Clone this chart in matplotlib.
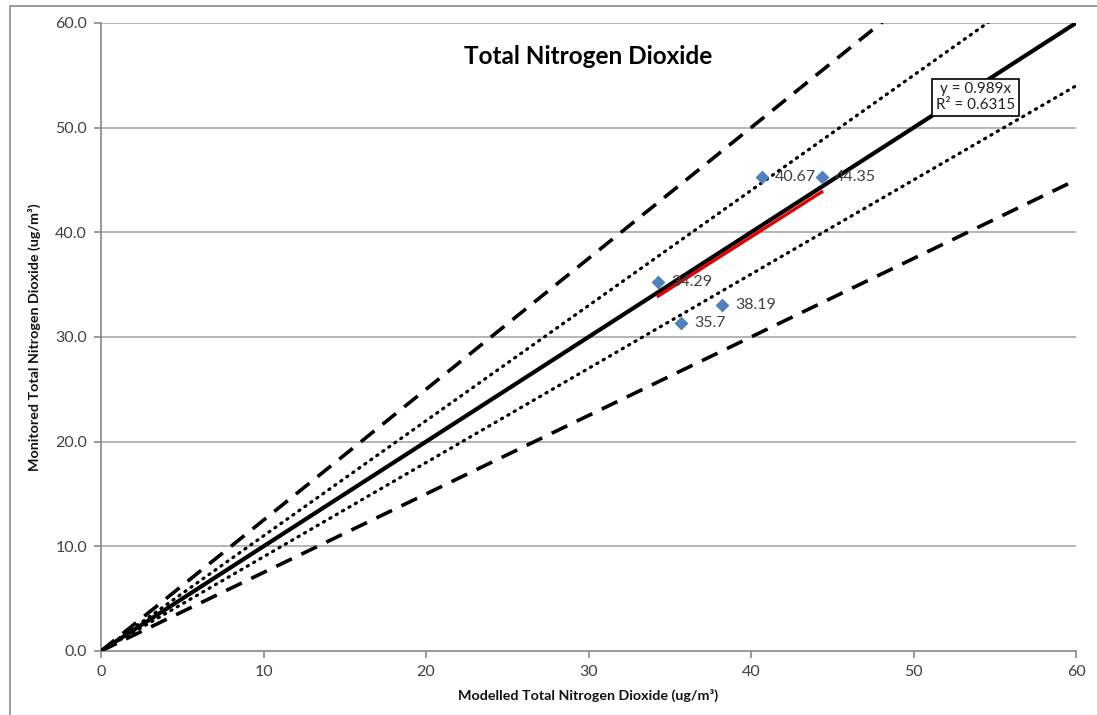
import matplotlib
matplotlib.use("Agg")
import matplotlib.pyplot as plt
from matplotlib.patches import Rectangle

plt.rcParams['font.family'] = ['Lato', 'DejaVu Sans']

# Data
modelled = [34.29, 35.7, 38.19, 40.67, 44.35]
monitored = [35.22, 31.37, 33.06, 45.31, 45.31]
point_labels = ["34.29", "35.7", "38.19", "40.67", "44.35"]
trend_slope = 0.989
r_squared = 0.6315
ref_slopes_dotted = [1.1, 0.9]
ref_slopes_dashed = [1.25, 0.75]
x_ticks = [0, 10, 20, 30, 40, 50, 60]
y_ticks = [0, 10, 20, 30, 40, 50, 60]

W, H = 1097, 715
fig = plt.figure(figsize=(W/100, H/100), dpi=100)
# outer chart border (only top/left visible)
fig.patches.append(Rectangle((10/W, -0.05), 1.2, 1 - 6/H + 0.05, transform=fig.transFigure,
                             fill=False, edgecolor='#8c8c8c', linewidth=1.2))
ax = fig.add_axes([101/W, 1 - 651/H, (1076-101)/W, (651-23)/H])

ax.set_xlim(0, 60)
ax.set_ylim(0, 60)

grid_c = '#a0a0a0'
for y in y_ticks[1:]:
    ax.axhline(y, color=grid_c, linewidth=1.1, zorder=0)

xs = [0, 60]
# dashed lines
for s in ref_slopes_dashed:
    ax.plot(xs, [0, 60*s], color='black', linewidth=2.6, linestyle=(0, (4.8, 2.9)), zorder=2)
for s in ref_slopes_dotted:
    ax.plot(xs, [0, 60*s], color='black', linewidth=2.3, linestyle=(0, (0.4, 1.9)),
            dash_capstyle='round', zorder=2)
ax.plot(xs, [0, 60], color='black', linewidth=3.0, zorder=3)

# trendline
xmin, xmax = min(modelled), max(modelled)
ax.plot([xmin, xmax], [trend_slope*xmin, trend_slope*xmax], color='#e00000', linewidth=2.4, zorder=4)

ax.scatter(modelled, monitored, marker='D', s=50, color='#4f81bd', zorder=5, linewidths=0)
for x, y, lab in zip(modelled, monitored, point_labels):
    ax.annotate(lab, (x, y), xytext=(9.5, 0), textcoords='offset points', va='center', ha='left',
                fontsize=11.5, color='#404040', zorder=6)

ax.text(53.8, 52.9, f"y = {trend_slope}x\nR² = {r_squared}", ha='center', va='center',
        fontsize=11, color='#222222', linespacing=1.15,
        bbox=dict(boxstyle='square,pad=0.25', facecolor='white', edgecolor='black', linewidth=1.2),
        zorder=7)

ax.text(30, 56.8, "Total Nitrogen Dioxide", ha='center', va='center', fontsize=17.5,
        fontweight='bold', color='black')

for sp in ['top', 'right']:
    ax.spines[sp].set_visible(False)
for sp in ['left', 'bottom']:
    ax.spines[sp].set_color('#888888')
    ax.spines[sp].set_linewidth(1.2)

ax.set_xticks(x_ticks)
ax.set_xticklabels([str(t) for t in x_ticks])
ax.set_yticks(y_ticks)
ax.set_yticklabels([f"{t:.1f}" for t in y_ticks])
ax.tick_params(axis='both', direction='out', length=5, width=1.2, color='#888888',
               labelsize=11.5, labelcolor='#404040')
ax.tick_params(axis='x', pad=5)
ax.tick_params(axis='y', pad=5)

ax.set_xlabel("Modelled Total Nitrogen Dioxide (ug/m³)", fontsize=10.3, fontweight='bold',
              color='#111111', labelpad=7)
ax.set_ylabel("Monitored Total Nitrogen Dioxide (ug/m³)", fontsize=10.3, fontweight='bold',
              color='#111111', labelpad=10)

fig.savefig("out.png", dpi=100)
